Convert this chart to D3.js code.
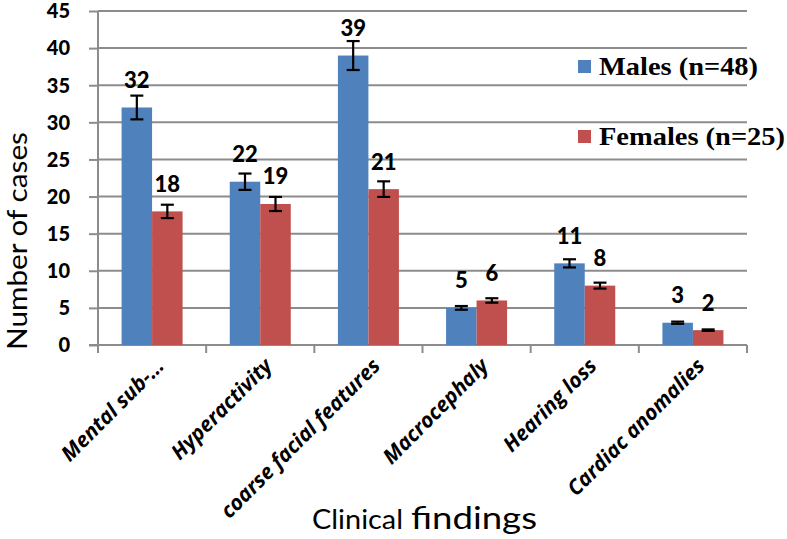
<!DOCTYPE html>
<html><head><meta charset="utf-8">
<script src="https://cdn.jsdelivr.net/npm/d3@7"></script>
<style>body{margin:0;background:#fff}svg{display:block}</style>
</head><body>
<svg id="c" width="787" height="539"></svg>
<script>
const categories = ["Mental sub-…","Hyperactivity","coarse facial features","Macrocephaly","Hearing loss","Cardiac anomalies"];
const males = [32,22,39,5,11,3];
const females = [18,19,21,6,8,2];
const malesErr = [1.6,1.1,1.95,0.25,0.55,0.15];
const femalesErr = [0.9,0.95,1.05,0.3,0.4,0.1];
const yTicks = [0,5,10,15,20,25,30,35,40,45];
const seriesNames = ["Males (n=48)","Females (n=25)"];
const colors = ["#4F81BD","#C0504D"];

const svg = d3.select("#c");
const L=98, R=747, T=11, B=345;
const y = d3.scaleLinear().domain([0,45]).range([B,T]);
const x0 = d3.scaleBand().domain(categories).range([L,R]);
const bw = x0.bandwidth();
const x1 = d3.scaleBand().domain([0,1]).range([bw*0.218, bw*0.782]);

// gridlines
svg.append("g").selectAll("line").data(yTicks.filter(d=>d>0)).join("line")
  .attr("x1",L).attr("x2",R).attr("y1",d=>y(d)).attr("y2",d=>y(d))
  .attr("stroke","#8c8c8c").attr("stroke-width",2);

// y axis
const ya = svg.append("g").attr("transform",`translate(${L},0)`).call(d3.axisLeft(y).tickValues(yTicks).tickSize(9).tickFormat(d3.format("d")));
ya.select(".domain").attr("stroke","#8c8c8c").attr("stroke-width",2).attr("d",`M0,${T}V${B}`);
ya.selectAll(".tick line").attr("stroke","#8c8c8c").attr("stroke-width",2);
ya.selectAll(".tick text").attr("x",-28).attr("dy","0.34em")
  .attr("font-family","Lato, 'Open Sans', sans-serif").attr("font-weight","900").attr("font-size",20).attr("fill","#000");

// x axis
const xa = svg.append("g").attr("transform",`translate(0,${B})`);
xa.append("line").attr("x1",L-9).attr("x2",R).attr("stroke","#8c8c8c").attr("stroke-width",2);
const bounds = categories.map(c=>x0(c)).concat([R]);
xa.selectAll("line.t").data(bounds).join("line").attr("class","t")
  .attr("x1",d=>d).attr("x2",d=>d).attr("y1",0).attr("y2",8).attr("stroke","#8c8c8c").attr("stroke-width",2);

const series = [males, females];
const errs = [malesErr, femalesErr];
series.forEach((vals,si)=>{
  const g = svg.append("g");
  g.selectAll("rect").data(vals).join("rect")
    .attr("x",(d,i)=>x0(categories[i])+x1(si)).attr("width",x1.bandwidth())
    .attr("y",d=>y(d)).attr("height",d=>B-y(d)).attr("fill",colors[si]);
  const eg = svg.append("g").attr("stroke","#000").attr("stroke-width",2.2);
  vals.forEach((v,i)=>{
    const cx = x0(categories[i])+x1(si)+x1.bandwidth()/2;
    const e = errs[si][i];
    eg.append("line").attr("x1",cx).attr("x2",cx).attr("y1",y(v+e)).attr("y2",y(v-e));
    eg.append("line").attr("x1",cx-6.5).attr("x2",cx+6.5).attr("y1",y(v+e)).attr("y2",y(v+e));
    eg.append("line").attr("x1",cx-6.5).attr("x2",cx+6.5).attr("y1",y(v-e)).attr("y2",y(v-e));
  });
  svg.append("g").selectAll("text").data(vals).join("text")
    .attr("x",(d,i)=>x0(categories[i])+x1(si)+x1.bandwidth()/2)
    .attr("y",d=>y(d)-19.5).attr("text-anchor","middle")
    .attr("font-family","Lato, 'Open Sans', sans-serif").attr("font-weight","900").attr("font-size",22)
    .text(d=>d);
});

// x category labels
svg.append("g").selectAll("text").data(categories).join("text")
  .attr("transform",d=>`translate(${x0(d)+bw/2+8},${B+17}) rotate(-45)`)
  .attr("text-anchor","end").attr("dy","0.35em")
  .attr("font-family","'Open Sans', 'Liberation Sans', sans-serif").attr("font-weight","bold").attr("font-style","italic").attr("font-size",21)
  .text(d=>d);

// axis titles
svg.append("text").attr("transform","translate(27,241) rotate(-90)").attr("text-anchor","middle")
  .attr("font-family","Lato, 'Open Sans', sans-serif").attr("font-size",27).attr("textLength",218).attr("lengthAdjust","spacingAndGlyphs")
  .text("Number of cases");
svg.append("text").attr("x",312).attr("y",529).attr("font-family","Lato, 'Open Sans', sans-serif").attr("font-size",27)
  .attr("textLength",91).attr("lengthAdjust","spacingAndGlyphs").text("Clinical");
svg.append("text").attr("x",411).attr("y",529).attr("font-family","Lato, 'Open Sans', sans-serif").attr("font-size",31)
  .attr("textLength",126).attr("lengthAdjust","spacingAndGlyphs").text("findings");

// legend
const lg = svg.append("g");
const ly = [60,130];
seriesNames.forEach((n,i)=>{
  lg.append("rect").attr("x",578).attr("y",ly[i]).attr("width",13).attr("height",13).attr("fill",colors[i]);
  lg.append("text").attr("x",599).attr("y",ly[i]+15).attr("font-family","'Liberation Serif', 'Times New Roman', serif")
    .attr("font-weight","bold").attr("font-size",25).attr("textLength",i===0?159:186).attr("lengthAdjust","spacingAndGlyphs").text(n);
});
</script>
</body></html>
